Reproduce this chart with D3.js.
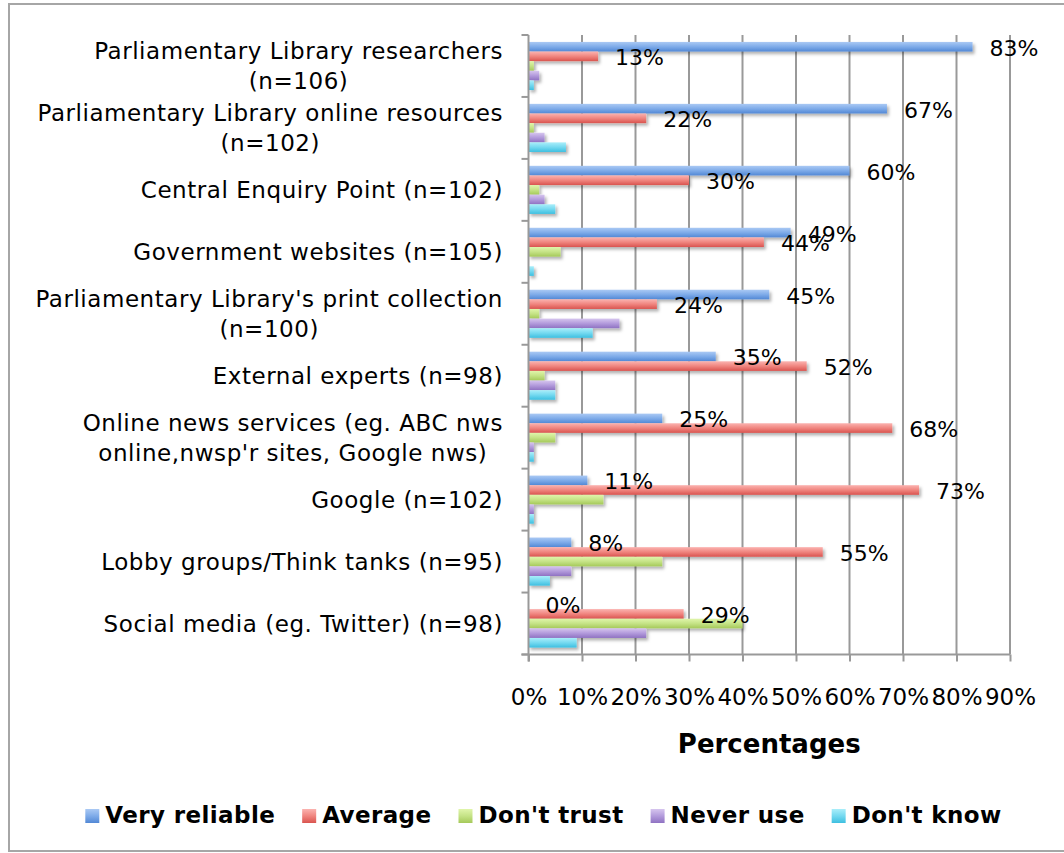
<!DOCTYPE html>
<html>
<head>
<meta charset="utf-8">
<script src="https://cdn.jsdelivr.net/npm/d3@7"></script>
<style>
  html, body { margin: 0; padding: 0; background: #fff; }
  svg { display: block; }
  text { font-family: "DejaVu Sans", Verdana, sans-serif; fill: #000; }
</style>
</head>
<body>
<svg id="chart" width="1064" height="853"></svg>
<script>
// ---------- data ----------
const categories = [
  "Parliamentary Library researchers\n(n=106)",
  "Parliamentary Library online resources\n(n=102)",
  "Central Enquiry Point (n=102)",
  "Government websites (n=105)",
  "Parliamentary Library's print collection\n(n=100)",
  "External experts (n=98)",
  "Online news services (eg. ABC nws\nonline,nwsp'r sites, Google nws)",
  "Google (n=102)",
  "Lobby groups/Think tanks (n=95)",
  "Social media (eg. Twitter) (n=98)"
];
const seriesNames = ["Very reliable", "Average", "Don't trust", "Never use", "Don't know"];
const veryReliable = [83, 67, 60, 49, 45, 35, 25, 11, 8, 0];
const average      = [13, 22, 30, 44, 24, 52, 68, 73, 55, 29];
const dontTrust    = [1, 1, 2, 6, 2, 3, 5, 14, 25, 40];
const neverUse     = [2, 3, 3, 0, 17, 5, 1, 1, 8, 22];
const dontKnow     = [1, 7, 5, 1, 12, 5, 1, 1, 4, 9];
const labelledSeries = ["Very reliable", "Average"];
const tickValues = [0, 10, 20, 30, 40, 50, 60, 70, 80, 90];
const axisTitle = "Percentages";

const seriesValues = [veryReliable, average, dontTrust, neverUse, dontKnow];
const seriesColors = [
  ["#aac9f4", "#7eabe9", "#5288d5"],
  ["#fbb3b0", "#f0857f", "#d9544f"],
  ["#e0f5ab", "#c5e386", "#a5c95a"],
  ["#d6c5ee", "#b39bdc", "#8f72c2"],
  ["#aaeefa", "#74d9f0", "#3ebfe0"]
];

(function () {
// ---------- layout ----------
const svg = d3.select("#chart");
const pLeft = 528.5, pRight = 1010, pTop = 35, pBottom = 654.5;

svg.append("rect")
  .attr("x", 9).attr("y", 4).attr("width", 1070).attr("height", 847)
  .attr("fill", "#fff").attr("stroke", "#a6a6a6").attr("stroke-width", 2);

const defs = svg.append("defs");
seriesNames.forEach((s, i) => {
  const g = defs.append("linearGradient").attr("id", "grad" + i)
    .attr("x1", 0).attr("y1", 0).attr("x2", 0).attr("y2", 1);
  g.append("stop").attr("offset", "0%").attr("stop-color", seriesColors[i][0]);
  g.append("stop").attr("offset", "50%").attr("stop-color", seriesColors[i][1]);
  g.append("stop").attr("offset", "100%").attr("stop-color", seriesColors[i][2]);
});
const f = defs.append("filter").attr("id", "shadow")
  .attr("x", "-10%").attr("y", "-30%").attr("width", "130%").attr("height", "190%");
f.append("feDropShadow").attr("dx", 2).attr("dy", 2.5).attr("stdDeviation", 1.6)
  .attr("flood-color", "#000").attr("flood-opacity", 0.3);

const x = d3.scaleLinear().domain([0, 90]).range([pLeft, pRight]);
const y = d3.scaleBand().domain(categories).range([pTop, pBottom]).paddingInner(0).paddingOuter(0);
const ys = d3.scaleBand().domain(seriesNames).range([0, y.bandwidth()]).paddingInner(0).paddingOuter(0.72);

const gridColor = "#999";

// gridlines
svg.append("g").selectAll("line").data(tickValues.slice(1)).join("line")
  .attr("x1", d => x(d)).attr("x2", d => x(d))
  .attr("y1", pTop).attr("y2", pBottom)
  .attr("stroke", gridColor).attr("stroke-width", 2);

// bars
const barsG = svg.append("g").attr("filter", "url(#shadow)");
seriesNames.forEach((s, si) => {
  barsG.append("g").selectAll("rect")
    .data(categories.map((c, ci) => ({ c, v: seriesValues[si][ci] })).filter(d => d.v > 0))
    .join("rect")
    .attr("x", x(0))
    .attr("y", d => y(d.c) + ys(s))
    .attr("width", d => x(d.v) - x(0))
    .attr("height", ys.bandwidth())
    .attr("fill", "url(#grad" + si + ")");
});

// x axis
const xAxis = svg.append("g").attr("transform", `translate(0,${pBottom})`)
  .call(d3.axisBottom(x).tickValues(tickValues).tickSize(7).tickSizeOuter(0)
    .tickFormat(d => d + "%"));
xAxis.select(".domain").attr("stroke", gridColor).attr("stroke-width", 2)
  .attr("d", `M${pLeft - 7},0H${pRight}`);
xAxis.selectAll(".tick line").attr("stroke", gridColor).attr("stroke-width", 2);
xAxis.selectAll(".tick text").attr("y", 50).attr("dy", 0)
  .style("font-size", "23px").style("font-family", "DejaVu Sans, Verdana, sans-serif").attr("fill", "#000");

// y axis
const yAxisG = svg.append("g");
yAxisG.append("line").attr("x1", pLeft).attr("x2", pLeft).attr("y1", pTop).attr("y2", pBottom + 7)
  .attr("stroke", gridColor).attr("stroke-width", 2);
const boundaries = categories.map(c => y(c)).concat([pBottom]);
yAxisG.selectAll("line.tk").data(boundaries).join("line").attr("class", "tk")
  .attr("x1", pLeft - 7).attr("x2", pLeft).attr("y1", d => d).attr("y2", d => d)
  .attr("stroke", gridColor).attr("stroke-width", 2);

// category labels
const labelRight = 503;
categories.forEach(c => {
  const lines = c.split("\n");
  const cy = y(c) + y.bandwidth() / 2;
  const g = svg.append("g");
  const texts = lines.map((ln, i) => g.append("text")
    .attr("text-anchor", "middle")
    .attr("y", cy + 8 + (i - (lines.length - 1) / 2) * 30)
    .style("font-size", "23px").style("letter-spacing", "0.55px")
    .text(ln));
  const maxW = d3.max(texts, t => t.node().getComputedTextLength());
  texts.forEach(t => t.attr("x", labelRight - maxW / 2));
});

// data labels
labelledSeries.forEach(s => {
  const si = seriesNames.indexOf(s);
  svg.append("g").selectAll("text")
    .data(categories.map((c, ci) => ({ c, v: seriesValues[si][ci] })))
    .join("text")
    .attr("x", d => x(d.v) + 17)
    .attr("y", d => y(d.c) + ys(s) + ys.bandwidth() / 2 + 9)
    .style("font-size", "22px")
    .text(d => d.v + "%");
});

// axis title
svg.append("text").attr("x", (pLeft + pRight) / 2).attr("y", 753)
  .attr("text-anchor", "middle").style("font-size", "26px").style("font-weight", "bold")
  .text(axisTitle);

// legend
const legend = svg.append("g");
let lx = 0;
seriesNames.forEach((s, i) => {
  const it = legend.append("g").attr("transform", `translate(${lx},0)`);
  it.append("rect").attr("x", 0).attr("y", 809).attr("width", 14).attr("height", 14)
    .attr("fill", "url(#grad" + i + ")");
  const t = it.append("text").attr("x", 20).attr("y", 823)
    .style("font-size", "23px").style("font-weight", "bold").style("letter-spacing", "0.4px").text(s);
  const w = t.node().getComputedTextLength();
  lx += 20 + w + 27;
});
const totalW = lx - 27;
legend.attr("transform", `translate(${543.5 - totalW / 2},0)`);
})();
</script>
</body>
</html>
